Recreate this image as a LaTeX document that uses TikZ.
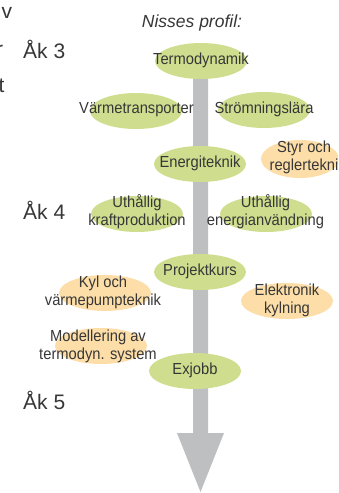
\documentclass[tikz,border=0pt]{standalone}
\usepackage{fontspec}
\setmainfont{Liberation Sans}
\newfontfamily\condfont{Liberation Sans}[FakeStretch=0.92]
\usetikzlibrary{shapes.geometric}
\definecolor{ellgreen}{RGB}{206,222,142}
\definecolor{ellorange}{RGB}{253,222,168}
\definecolor{shaftgray}{RGB}{190,191,193}
\definecolor{txt}{RGB}{55,55,55}
\tikzset{
  ell/.style={ellipse, minimum width=92pt, minimum height=36pt, inner sep=0pt, draw=none},
  greenell/.style={ell, fill=ellgreen},
  orangeell/.style={ell, fill=ellorange},
  lbl/.style={text=txt, font=\condfont\fontsize{16}{18}\selectfont, align=center, inner sep=0pt},
  yearlbl/.style={text=txt, font=\fontsize{21}{24}\selectfont, inner sep=0pt, anchor=base west},
  edgelbl/.style={text=txt, font=\fontsize{21}{24}\selectfont, inner sep=0pt},
}
\begin{document}
\begin{tikzpicture}[x=1pt,y=-1pt]
\useasboundingbox (0,0) rectangle (338,493);
\clip (0,0) rectangle (338,493);
% cropped letters at the left edge
\node[edgelbl, anchor=base west] (fragv) at (1.5,18) {v};
\node[edgelbl, anchor=base west] (fragr) at (-4.2,56.5) {r};
\node[edgelbl, anchor=base west] (fragt) at (-1.5,92) {t};
% title
\node[text=txt, font=\itshape\fontsize{17.5}{20}\selectfont, inner sep=0pt, anchor=base] (title) at (192,27) {Nisses profil:};
% year labels
\node[yearlbl] (ak3) at (23,58.5) {Åk 3};
\node[yearlbl] (ak4) at (23,219) {Åk 4};
\node[yearlbl] (ak5) at (23,409) {Åk 5};
% spine arrow
\fill[shaftgray] (193,70) -- (208,70) -- (208,433) -- (224,433) -- (200.5,492) -- (177,433) -- (193,433) -- cycle;
% ellipses
\node[greenell] (termo) at (201,61) {};
\node[greenell] (varme) at (136,111) {};
\node[greenell] (strom) at (264,110) {};
\node[greenell] (energi) at (200,164) {};
\node[orangeell, minimum width=78pt, minimum height=38pt] (styr) at (300,159) {};
\node[greenell] (kraft) at (137,214) {};
\node[greenell] (anv) at (266,214) {};
\node[greenell] (proj) at (200,272) {};
\node[orangeell] (kyl) at (105,293) {};
\node[orangeell] (elek) at (287,301) {};
\node[orangeell] (modell) at (101,346) {};
\node[greenell] (exjobb) at (195,371) {};
% labels
\node[lbl] at ([yshift=1pt]termo.center) {Termodynamik};
\node[lbl] at ([xshift=0.5pt,yshift=1pt]varme.center) {Värmetransporter};
\node[lbl] at ([yshift=1pt]strom.center) {Strömningslära};
\node[lbl] at ([yshift=1pt]energi.center) {Energiteknik};
\node[lbl] at ([xshift=4pt,yshift=2pt]styr.center) {Styr och\\reglertekni};
\node[lbl] at ([yshift=2pt]kraft.center) {Uthållig\\kraftproduktion};
\node[lbl] at ([xshift=-0.5pt,yshift=2pt]anv.center) {Uthållig\\energianvändning};
\node[lbl] at ([yshift=1pt]proj.center) {Projektkurs};
\node[lbl] at ([xshift=-2pt,yshift=1pt]kyl.center) {Kyl och\\värmepumpteknik};
\node[lbl] at ([yshift=1pt]elek.center) {Elektronik\\kylning};
\node[lbl] at ([xshift=-3pt,yshift=0pt]modell.center) {Modellering av\\termodyn. system};
\node[lbl] at ([yshift=1pt]exjobb.center) {Exjobb};
\end{tikzpicture}
\end{document}
